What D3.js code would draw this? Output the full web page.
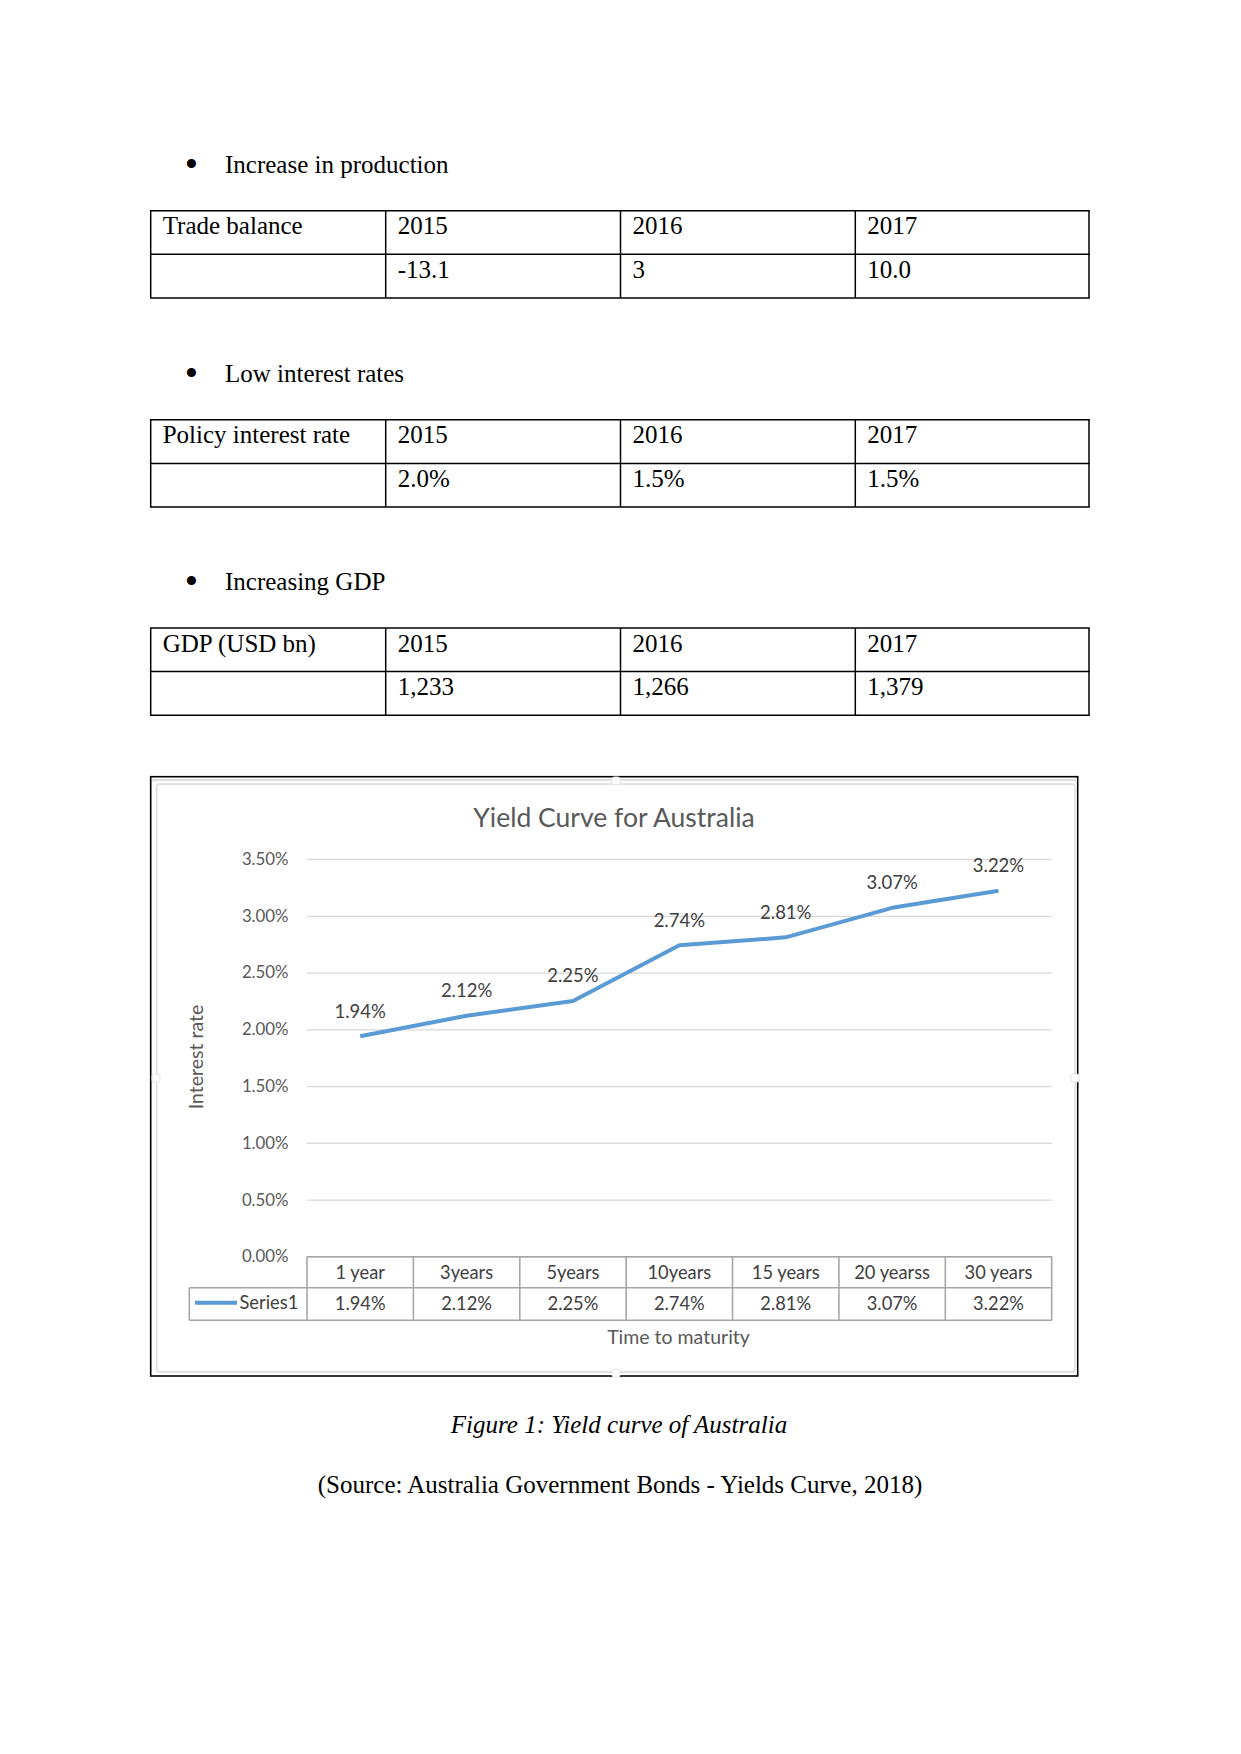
<!DOCTYPE html>
<html>
<head>
<meta charset="utf-8">
<script src="https://cdn.jsdelivr.net/npm/d3@7"></script>
<style>
  html, body { margin: 0; padding: 0; background: #ffffff; }
  svg { display: block; }
</style>
</head>
<body>
<svg id="page" width="1241" height="1754"></svg>
<script>
// ---------- data ----------
const bullets = ["Increase in production", "Low interest rates", "Increasing GDP"];
const tableLabels = ["Trade balance", "Policy interest rate", "GDP (USD bn)"];
const tableYears = ["2015", "2016", "2017"];
const tradeBalance = ["-13.1", "3", "10.0"];
const policyRate = ["2.0%", "1.5%", "1.5%"];
const gdpValues = ["1,233", "1,266", "1,379"];

const chartTitle = "Yield Curve for Australia";
const maturities = ["1 year", "3years", "5years", "10years", "15 years", "20 yearss", "30 years"];
const yields = [1.94, 2.12, 2.25, 2.74, 2.81, 3.07, 3.22];
const yTicks = [0, 0.5, 1.0, 1.5, 2.0, 2.5, 3.0, 3.5];
const seriesName = "Series1";
const xTitle = "Time to maturity";
const yTitle = "Interest rate";
const figureCaption = "Figure 1: Yield curve of Australia";
const sourceCaption = "(Source: Australia Government Bonds - Yields Curve, 2018)";

// ---------- page ----------
const svg = d3.select("#page");
svg.append("rect").attr("width", 1241).attr("height", 1754).attr("fill", "#fff");

const serif = "'Liberation Serif', 'Times New Roman', serif";
const sans = "Lato, Carlito, Calibri, 'Open Sans', sans-serif";

const docTables = [tradeBalance, policyRate, gdpValues];
const colEdges = [150.7, 385.7, 620.5, 855.3, 1089];
const tableTops = [210.7, 419.8, 628];
const rowH = 43.6;

docTables.forEach((vals, i) => {
  const top = tableTops[i];
  const g = svg.append("g");
  const by = top - 38;
  g.append("text").attr("x", 191.5).attr("y", by + 4).attr("text-anchor", "middle")
    .attr("font-family", serif).attr("font-size", 38).attr("fill", "#000").text("\u2022");
  g.append("text").attr("x", 225).attr("y", by)
    .attr("font-family", serif).attr("font-size", 25).attr("fill", "#000").text(bullets[i]);
  const rows = [top, top + rowH, top + 2 * rowH];
  rows.forEach(y => g.append("line").attr("x1", colEdges[0] - 0.75).attr("x2", colEdges[4] + 0.75)
    .attr("y1", y).attr("y2", y).attr("stroke", "#000").attr("stroke-width", 1.5));
  colEdges.forEach(x => g.append("line").attr("x1", x).attr("x2", x)
    .attr("y1", top).attr("y2", top + 2 * rowH).attr("stroke", "#000").attr("stroke-width", 1.5));
  const header = [tableLabels[i]].concat(tableYears);
  const body = [""].concat(vals);
  header.forEach((t, c) => g.append("text").attr("x", colEdges[c] + 12).attr("y", top + 23.5)
    .attr("font-family", serif).attr("font-size", 25).attr("fill", "#000").text(t));
  body.forEach((t, c) => g.append("text").attr("x", colEdges[c] + 12).attr("y", top + rowH + 23.5)
    .attr("font-family", serif).attr("font-size", 25).attr("fill", "#000").text(t));
});

// ---------- chart ----------
const chart = svg.append("g");
chart.append("rect").attr("x", 150.7).attr("y", 776.7).attr("width", 1077.7 - 150.7).attr("height", 1376 - 776.7)
  .attr("fill", "#fff").attr("stroke", "#000").attr("stroke-width", 1.6);
chart.append("line").attr("x1", 152).attr("x2", 1076).attr("y1", 780).attr("y2", 780)
  .attr("stroke", "#d4d4d4").attr("stroke-width", 1.5);
chart.append("rect").attr("x", 156.7).attr("y", 784).attr("width", 1075 - 156.7).attr("height", 1372 - 784)
  .attr("rx", 3).attr("fill", "#fff").attr("stroke", "#d9d9d9").attr("stroke-width", 1.3);
[[616, 781], [616, 1373], [156, 1078], [1075, 1078]].forEach(([x, y]) =>
  chart.append("rect").attr("x", x - 4).attr("y", y - 4).attr("width", 8).attr("height", 8).attr("rx", 2)
    .attr("fill", "#fff").attr("stroke", "#e3e3e3").attr("stroke-width", 1));

chart.append("text").attr("x", 614).attr("y", 826.5).attr("text-anchor", "middle")
  .attr("font-family", sans).attr("font-size", 26.5).attr("fill", "#595959").text(chartTitle);

const x = d3.scaleBand().domain(maturities).range([307, 1051.7]).paddingInner(0).paddingOuter(0);
const y = d3.scaleLinear().domain([0, 3.5]).range([1256.5, 859]);

const yAxis = d3.axisLeft(y).tickValues(yTicks).tickSizeInner(-(1051.7 - 307)).tickSizeOuter(0)
  .tickPadding(18.5).tickFormat(d => d.toFixed(2) + "%");
const yG = chart.append("g").attr("transform", "translate(307,0)").call(yAxis);
yG.select(".domain").remove();
yG.selectAll(".tick line").attr("stroke", "#d9d9d9").attr("stroke-width", 1.3);
yG.selectAll(".tick text").attr("font-family", sans).attr("font-size", 16.8).attr("fill", "#595959");

chart.append("text").attr("transform", "translate(202.5,1057) rotate(-90)").attr("text-anchor", "middle")
  .attr("font-family", sans).attr("font-size", 19.5).attr("fill", "#595959").text(yTitle);

const line = d3.line().x((d, i) => x(maturities[i]) + x.bandwidth() / 2).y(d => y(d));
chart.append("path").datum(yields).attr("d", line).attr("fill", "none")
  .attr("stroke", "#5b9bd5").attr("stroke-width", 4).attr("stroke-linejoin", "round");

chart.selectAll(".dlabel").data(yields).enter().append("text")
  .attr("x", (d, i) => x(maturities[i]) + x.bandwidth() / 2)
  .attr("y", d => y(d) - 18.5)
  .attr("text-anchor", "middle").attr("font-family", sans).attr("font-size", 18.5)
  .attr("fill", "#404040").text(d => d.toFixed(2) + "%");

const tTop = 1256.7, tMid = 1287.7, tBot = 1320.3, legLeft = 189.3;
const tg = chart.append("g");
const tStroke = "#a6a6a6";
tg.append("line").attr("x1", 307).attr("x2", 1051.7).attr("y1", tTop).attr("y2", tTop).attr("stroke", tStroke).attr("stroke-width", 1.6);
tg.append("line").attr("x1", legLeft).attr("x2", 1051.7).attr("y1", tMid).attr("y2", tMid).attr("stroke", tStroke).attr("stroke-width", 1.6);
tg.append("line").attr("x1", legLeft).attr("x2", 1051.7).attr("y1", tBot).attr("y2", tBot).attr("stroke", tStroke).attr("stroke-width", 1.6);
tg.append("line").attr("x1", legLeft).attr("x2", legLeft).attr("y1", tMid).attr("y2", tBot).attr("stroke", tStroke).attr("stroke-width", 1.6);
maturities.forEach(m => tg.append("line").attr("x1", x(m)).attr("x2", x(m)).attr("y1", tTop).attr("y2", tBot)
  .attr("stroke", tStroke).attr("stroke-width", 1.6));
tg.append("line").attr("x1", 1051.7).attr("x2", 1051.7).attr("y1", tTop).attr("y2", tBot).attr("stroke", tStroke).attr("stroke-width", 1.6);

tg.selectAll(".cat").data(maturities).enter().append("text")
  .attr("x", d => x(d) + x.bandwidth() / 2).attr("y", (tTop + tMid) / 2 + 6.3)
  .attr("text-anchor", "middle").attr("font-family", sans).attr("font-size", 18.3)
  .attr("fill", "#404040").text(d => d);
tg.selectAll(".val").data(yields).enter().append("text")
  .attr("x", (d, i) => x(maturities[i]) + x.bandwidth() / 2).attr("y", (tMid + tBot) / 2 + 6.3)
  .attr("text-anchor", "middle").attr("font-family", sans).attr("font-size", 18.3)
  .attr("fill", "#404040").text(d => d.toFixed(2) + "%");
tg.append("line").attr("x1", 195).attr("x2", 237).attr("y1", 1302.7).attr("y2", 1302.7)
  .attr("stroke", "#5b9bd5").attr("stroke-width", 4);
tg.append("text").attr("x", 239.5).attr("y", 1302.7 + 6.3).attr("font-family", sans).attr("font-size", 18.3)
  .attr("fill", "#404040").text(seriesName);

chart.append("text").attr("x", 678.5).attr("y", 1343.5).attr("text-anchor", "middle")
  .attr("font-family", sans).attr("font-size", 19.5).attr("fill", "#595959").text(xTitle);

// ---------- captions ----------
svg.append("text").attr("x", 619).attr("y", 1432.5).attr("text-anchor", "middle")
  .attr("font-family", serif).attr("font-style", "italic").attr("font-size", 25).attr("fill", "#000").text(figureCaption);
svg.append("text").attr("x", 620).attr("y", 1493).attr("text-anchor", "middle")
  .attr("font-family", serif).attr("font-size", 25).attr("fill", "#000").text(sourceCaption);
</script>
</body>
</html>
